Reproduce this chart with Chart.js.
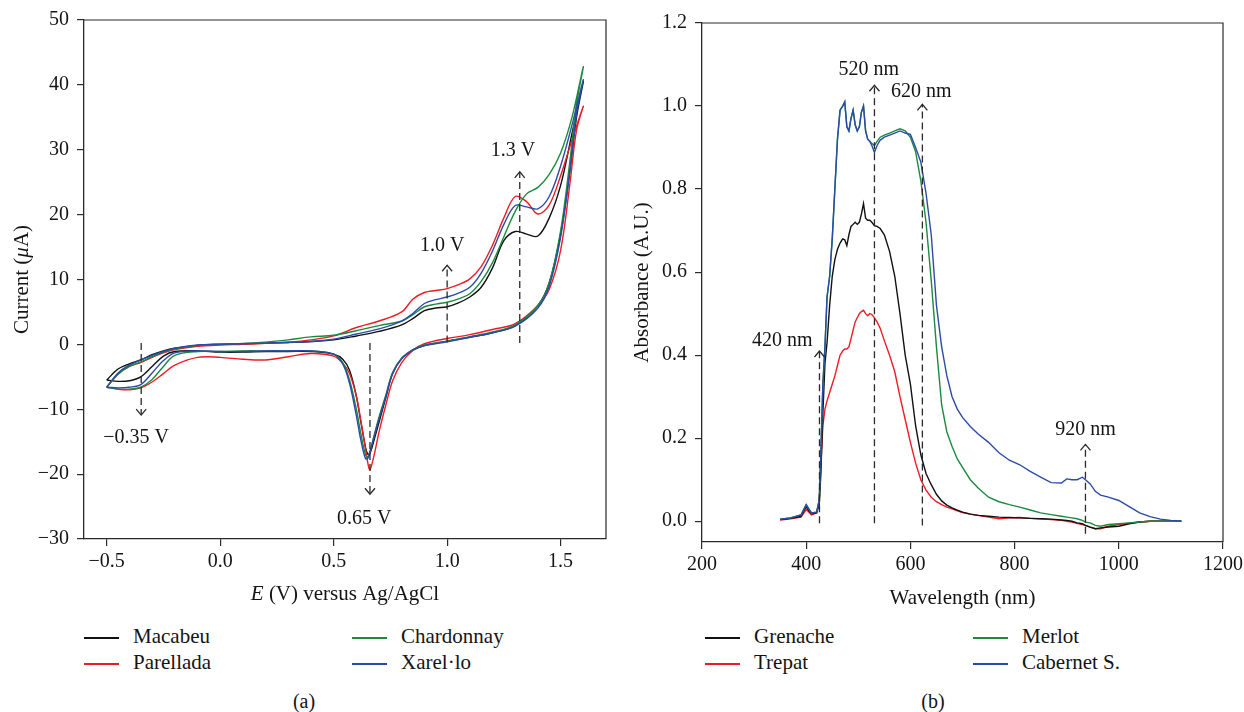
<!DOCTYPE html>
<html>
<head>
<meta charset="utf-8">
<script src="https://cdn.jsdelivr.net/npm/chart.js@4.4.1/dist/chart.umd.min.js"></script>
<style>
  body { margin: 0; background: #fff; width: 1244px; height: 712px; position: relative; overflow: hidden;
         font-family: 'Liberation Serif', 'Times New Roman', serif; color: #141414; }
  canvas { position: absolute; top: 0; }
  #cvChart { left: 0; }
  #uvChart { left: 622px; }
  .item { position: absolute; white-space: nowrap; font-size: 21px; height: 24px; line-height: 24px; }
  .swatch { display: inline-block; width: 35px; height: 1.5px; vertical-align: middle; margin-right: 14px; }
  .caption { position: absolute; top: 690px; font-size: 20px; transform: translateX(-50%); }
</style>
</head>
<body>
<canvas id="cvChart" width="622" height="612"></canvas>
<canvas id="uvChart" width="622" height="612"></canvas>
<div id="legendA"></div>
<div id="legendB"></div>
<div class="caption" style="left:304px">(a)</div>
<div class="caption" style="left:933px">(b)</div>
<script>
// ---- (a) cyclic voltammograms: forward scan then reverse scan
const cvPotential = [
  -0.5, -0.45, -0.4, -0.35, -0.3, -0.25, -0.2, -0.1, 0.0, 0.1, 0.2, 0.3, 0.4, 0.5, 0.6, 0.7, 0.8,
  0.85, 0.9, 0.95, 1.0, 1.05, 1.1, 1.15, 1.2, 1.25, 1.3, 1.35, 1.4, 1.45, 1.5, 1.55, 1.6,
  1.57, 1.54, 1.5, 1.45, 1.4, 1.3, 1.2, 1.1, 1.0, 0.9, 0.85, 0.8, 0.76, 0.73, 0.7, 0.68, 0.66,
  0.65, 0.64, 0.62, 0.6, 0.57, 0.54, 0.5, 0.4, 0.3, 0.2, 0.1, 0.0, -0.1, -0.2, -0.25, -0.3,
  -0.35, -0.4, -0.45, -0.5
];
const macabeu = [
  -5.5, -3.8, -3.0, -2.4, -1.6, -1.0, -0.6, -0.15, 0.0, 0.1, 0.2, 0.3, 0.45, 0.7, 1.3, 2.0, 3.0,
  4.0, 5.2, 5.6, 5.8, 6.4, 7.3, 8.8, 11.8, 16.0, 17.4, 17.0, 16.7, 19.5, 24.5, 32.5, 40.5,
  35.0, 26.5, 17.0, 9.5, 6.0, 2.9, 1.8, 1.1, 0.5, -0.2, -0.9, -2.2, -4.5, -8.2, -12.0, -14.5, -16.8,
  -16.9, -15.8, -12.0, -8.0, -4.0, -2.3, -1.5, -1.1, -1.1, -1.1, -1.2, -1.2, -1.0, -1.1, -1.8, -3.4,
  -5.0, -5.6, -5.7, -5.5
];
const parellada = [
  -6.6, -4.6, -3.4, -2.8, -2.0, -1.3, -0.8, -0.3, -0.1, 0.0, 0.15, 0.35, 0.7, 1.3, 2.6, 3.6, 5.0,
  7.0, 8.0, 8.3, 8.6, 9.2, 10.1, 12.0, 15.3, 19.5, 22.8, 22.0, 20.1, 21.5, 26.0, 31.5, 36.7,
  33.0, 24.5, 14.5, 8.5, 6.0, 3.2, 2.3, 1.5, 0.9, 0.1, -0.9, -2.8, -5.6, -9.3, -13.5, -16.8, -19.3,
  -18.2, -16.0, -11.8, -8.0, -4.5, -2.9, -1.8, -1.4, -1.9, -2.4, -2.3, -2.0, -2.0, -3.2, -4.5, -5.8,
  -6.7, -7.0, -6.9, -6.6
];
const chardonnay = [
  -6.6, -4.6, -3.4, -2.7, -1.9, -1.2, -0.7, -0.15, 0.05, 0.15, 0.35, 0.7, 1.15, 1.4, 2.1, 2.9, 3.6,
  4.6, 5.8, 6.2, 6.5, 7.0, 7.8, 9.7, 12.6, 16.6, 20.5, 23.2, 24.2, 26.2, 29.5, 35.0, 42.8,
  37.0, 28.0, 17.5, 9.5, 6.0, 3.0, 1.9, 1.2, 0.5, -0.1, -0.8, -2.1, -4.3, -7.8, -11.2, -13.8, -16.5,
  -17.4, -17.0, -13.8, -10.0, -5.5, -2.8, -1.5, -1.0, -1.0, -1.0, -1.0, -1.1, -1.1, -1.7, -3.4, -5.4,
  -6.6, -6.9, -6.9, -6.6
];
const xarello = [
  -6.6, -4.4, -3.2, -2.4, -1.7, -1.1, -0.6, -0.1, 0.0, 0.1, 0.2, 0.3, 0.45, 0.8, 1.6, 2.4, 3.6,
  4.8, 6.3, 6.9, 7.3, 7.9, 8.8, 11.0, 14.4, 18.5, 21.4, 21.2, 20.9, 22.8, 27.5, 33.8, 40.8,
  35.5, 26.5, 16.5, 9.0, 5.6, 2.8, 1.8, 1.1, 0.4, -0.2, -0.8, -2.2, -4.5, -8.0, -11.5, -14.0, -16.6,
  -17.6, -17.6, -14.8, -11.0, -6.0, -3.0, -1.5, -1.0, -1.0, -1.0, -1.1, -1.1, -1.0, -1.3, -2.5, -4.4,
  -6.2, -6.6, -6.7, -6.6
];
const cvXTicks = [-0.5, 0.0, 0.5, 1.0, 1.5];
const cvYTicks = [-30, -20, -10, 0, 10, 20, 30, 40, 50];

// ---- (b) absorbance spectra
const uvWavelength = [
  350, 370, 390, 400, 405, 410, 420, 425, 428, 432,
  436, 440, 445, 450, 455, 460, 465, 470, 474, 478,
  482, 486, 490, 494, 498, 502, 506, 510, 514, 518,
  522, 526, 531, 536, 542, 550, 560, 570, 580, 590,
  600, 610, 620, 630, 640, 650, 660, 670, 680, 690,
  700, 715, 730, 750, 770, 790, 810, 830, 850, 870,
  890, 900, 910, 920, 930, 936, 945, 955, 965, 980,
  1000, 1020, 1040, 1060, 1080, 1100, 1120
];
const grenache = [
  0.004, 0.007, 0.012, 0.035, 0.025, 0.018, 0.02, 0.04, 0.11, 0.26,
  0.38, 0.43, 0.52, 0.59, 0.63, 0.655, 0.67, 0.68, 0.678, 0.664,
  0.69, 0.71, 0.715, 0.72, 0.715, 0.72, 0.74, 0.765, 0.73, 0.725,
  0.725, 0.72, 0.712, 0.71, 0.705, 0.69, 0.65, 0.59, 0.50, 0.40,
  0.33, 0.23, 0.16, 0.115, 0.088, 0.065, 0.049, 0.039, 0.032, 0.027,
  0.022, 0.017, 0.014, 0.012, 0.010, 0.009, 0.008, 0.007, 0.006, 0.005,
  0.003, 0.002, 0.0, -0.004, -0.006, -0.010, -0.014, -0.018, -0.016, -0.014,
  -0.012, -0.006, -0.002, 0.0, 0.0, 0.0, 0.0
];
const trepat = [
  0.003, 0.006, 0.01, 0.028, 0.022, 0.015, 0.02, 0.05, 0.13, 0.23,
  0.27, 0.29, 0.31, 0.33, 0.35, 0.375, 0.40, 0.41, 0.415, 0.415,
  0.42, 0.44, 0.46, 0.48, 0.49, 0.50, 0.505, 0.508, 0.50, 0.495,
  0.50, 0.498, 0.49, 0.48, 0.465, 0.435, 0.40, 0.36, 0.30, 0.245,
  0.19, 0.14, 0.10, 0.075, 0.058, 0.047, 0.040, 0.034, 0.030, 0.025,
  0.021, 0.017, 0.014, 0.010, 0.006, 0.008, 0.009, 0.007, 0.006, 0.004,
  0.002, 0.0, -0.002, -0.005, -0.008, -0.010, -0.014, -0.018, -0.018, -0.012,
  -0.008, -0.005, -0.002, 0.0, 0.0, 0.0, 0.0
];
const merlot = [
  0.005, 0.008, 0.015, 0.04, 0.03, 0.02, 0.022, 0.05, 0.16, 0.33,
  0.42, 0.54, 0.59, 0.68, 0.80, 0.92, 0.99, 1.0, 1.01, 0.95,
  0.94, 0.97, 0.99, 0.955, 0.94, 0.95, 0.985, 1.0, 0.94, 0.92,
  0.915, 0.91, 0.905, 0.915, 0.925, 0.93, 0.935, 0.94, 0.945, 0.94,
  0.925, 0.89, 0.82, 0.72, 0.58, 0.42, 0.28, 0.215, 0.18, 0.15,
  0.13, 0.10, 0.08, 0.058, 0.047, 0.040, 0.034, 0.027, 0.020, 0.016,
  0.012, 0.010, 0.008, 0.006, 0.002, -0.002, -0.004, -0.010, -0.012, -0.008,
  -0.006, -0.004, -0.002, 0.0, 0.0, 0.0, 0.0
];
const cabernet = [
  0.005, 0.008, 0.015, 0.04, 0.03, 0.02, 0.022, 0.05, 0.16, 0.33,
  0.42, 0.54, 0.59, 0.68, 0.80, 0.92, 0.99, 1.0, 1.01, 0.95,
  0.94, 0.97, 0.99, 0.955, 0.94, 0.95, 0.985, 1.0, 0.94, 0.92,
  0.915, 0.905, 0.888, 0.905, 0.918, 0.925, 0.93, 0.935, 0.94, 0.935,
  0.932, 0.90, 0.865, 0.79, 0.69, 0.52, 0.42, 0.35, 0.30, 0.27,
  0.25, 0.228, 0.21, 0.19, 0.165, 0.147, 0.136, 0.12, 0.106, 0.093,
  0.092, 0.102, 0.10, 0.10, 0.106, 0.10, 0.09, 0.072, 0.063, 0.058,
  0.05, 0.035, 0.02, 0.011, 0.005, 0.002, 0.0
];
const uvXTicks = [200, 400, 600, 800, 1000, 1200];
const uvYTicks = [0.0, 0.2, 0.4, 0.6, 0.8, 1.0, 1.2];

const FONT = "'Liberation Serif', 'Times New Roman', serif";
const TEXT = '#141414';
const AXIS = '#2a2a2a';
const BLACK = '#111111', RED = '#ed1c24', GREEN = '#1b8a3f', BLUE = '#2b4ba8';

const minus = s => s.replace('-', '\u2212');

function pairs(xs, ys) {
  return xs.map((x, i) => ({ x: x, y: ys[i] }));
}

function drawRich(ctx, parts, cx, cy, rotate) {
  ctx.save();
  ctx.translate(cx, cy);
  if (rotate) ctx.rotate(-Math.PI / 2);
  ctx.textBaseline = 'middle';
  ctx.textAlign = 'left';
  ctx.fillStyle = TEXT;
  const fonts = parts.map(p => (p.italic ? 'italic ' : '') + '21px ' + FONT);
  let total = 0;
  const widths = parts.map((p, i) => {
    ctx.font = fonts[i];
    const w = ctx.measureText(p.text).width;
    total += w;
    return w;
  });
  let x = -total / 2;
  parts.forEach((p, i) => {
    ctx.font = fonts[i];
    ctx.fillText(p.text, x, 0);
    x += widths[i];
  });
  ctx.restore();
}

// frame, dashed arrows with labels, axis titles
const figurePlugin = {
  id: 'figure',
  afterDatasetsDraw(chart, args, opts) {
    const { ctx, chartArea: a, scales: { x, y } } = chart;
    ctx.save();
    ctx.strokeStyle = AXIS;
    ctx.lineWidth = 1.2;
    ctx.beginPath();
    ctx.moveTo(a.left, a.top);
    ctx.lineTo(a.right, a.top);
    ctx.lineTo(a.right, a.bottom);
    ctx.stroke();

    ctx.lineWidth = 1.3;
    ctx.font = '20px ' + FONT;
    ctx.fillStyle = TEXT;
    ctx.textAlign = 'center';
    ctx.textBaseline = 'middle';
    opts.marks.forEach(m => {
      const px = x.getPixelForValue(m.at);
      const p0 = y.getPixelForValue(m.from);
      const p1 = y.getPixelForValue(m.to);
      ctx.setLineDash([7, 4]);
      ctx.beginPath();
      ctx.moveTo(px, p0);
      ctx.lineTo(px, p1);
      ctx.stroke();
      ctx.setLineDash([]);
      const dir = p1 < p0 ? 1 : -1;
      ctx.beginPath();
      ctx.moveTo(px - 5, p1 + dir * 6);
      ctx.lineTo(px, p1);
      ctx.lineTo(px + 5, p1 + dir * 6);
      ctx.stroke();
      ctx.fillText(m.label, x.getPixelForValue(m.lx), y.getPixelForValue(m.ly));
    });
    ctx.restore();

    drawRich(ctx, opts.xTitle, (a.left + a.right) / 2, opts.xTitleY, false);
    drawRich(ctx, opts.yTitle, opts.yTitleX, (a.top + a.bottom) / 2, true);
  }
};

function lineSet(label, xs, ys, color, order, tension) {
  return {
    label: label,
    data: pairs(xs, ys),
    borderColor: color,
    borderWidth: 1.4,
    pointRadius: 0,
    fill: false,
    tension: tension,
    order: order
  };
}

function axis(min, max, tickList, fmt, size, isX) {
  return {
    type: 'linear',
    min: min,
    max: max,
    afterBuildTicks: s => { s.ticks = tickList.map(v => ({ value: v })); },
    afterFit: s => {
      if (isX) s.height = size; else s.width = size;
      s.paddingLeft = 0; s.paddingRight = 0; s.paddingTop = 0; s.paddingBottom = 0;
    },
    ticks: {
      callback: fmt,
      font: { family: FONT, size: 20 },
      color: TEXT,
      padding: isX ? 4 : 8,
      maxRotation: 0
    },
    grid: { drawOnChartArea: false, drawTicks: true, tickLength: 7, color: AXIS, lineWidth: 1.2 },
    border: { display: true, color: AXIS, width: 1.3 }
  };
}

new Chart(document.getElementById('cvChart'), {
  type: 'line',
  data: {
    datasets: [
      lineSet('Macabeu', cvPotential, macabeu, BLACK, 3, 0.35),
      lineSet('Parellada', cvPotential, parellada, RED, 2, 0.35),
      lineSet('Chardonnay', cvPotential, chardonnay, GREEN, 1, 0.35),
      lineSet('Xarel\u00b7lo', cvPotential, xarello, BLUE, 0, 0.35)
    ]
  },
  options: {
    responsive: false,
    animation: false,
    layout: { padding: { top: 20, right: 16, left: 0, bottom: 0 } },
    plugins: {
      legend: { display: false },
      tooltip: { enabled: false },
      figure: {
        marks: [
          { at: 1.32, from: 0.2, to: 26.6, label: '1.3 V', lx: 1.29, ly: 29.8 },
          { at: 1.0, from: 0.3, to: 12.2, label: '1.0 V', lx: 0.978, ly: 15.2 },
          { at: 0.66, from: 0.2, to: -23.1, label: '0.65 V', lx: 0.635, ly: -26.9 },
          { at: -0.348, from: 0.2, to: -10.9, label: '\u22120.35 V', lx: -0.37, ly: -14.4 }
        ],
        xTitle: [{ text: 'E', italic: true }, { text: ' (V) versus Ag/AgCl' }],
        xTitleY: 594,
        yTitle: [{ text: 'Current (' }, { text: '\u03bc', italic: true }, { text: 'A)' }],
        yTitleX: 22
      }
    },
    scales: {
      x: axis(-0.6, 1.7, cvXTicks, v => minus(v.toFixed(1)), 73, true),
      y: axis(-30, 50, cvYTicks, v => minus(String(v)), 84, false)
    }
  },
  plugins: [figurePlugin]
});

new Chart(document.getElementById('uvChart'), {
  type: 'line',
  data: {
    datasets: [
      lineSet('Grenache', uvWavelength, grenache, BLACK, 2, 0),
      lineSet('Trepat', uvWavelength, trepat, RED, 3, 0),
      lineSet('Merlot', uvWavelength, merlot, GREEN, 1, 0),
      lineSet('Cabernet S.', uvWavelength, cabernet, BLUE, 0, 0)
    ]
  },
  options: {
    responsive: false,
    animation: false,
    layout: { padding: { top: 23, right: 21, left: 0, bottom: 0 } },
    plugins: {
      legend: { display: false },
      tooltip: { enabled: false },
      figure: {
        marks: [
          { at: 425.5, from: -0.005, to: 0.41, label: '420 nm', lx: 354, ly: 0.434 },
          { at: 531, from: -0.005, to: 1.05, label: '520 nm', lx: 520, ly: 1.087 },
          { at: 623, from: -0.01, to: 1.004, label: '620 nm', lx: 621, ly: 1.035 },
          { at: 936, from: -0.03, to: 0.185, label: '920 nm', lx: 936, ly: 0.221 }
        ],
        xTitle: [{ text: 'Wavelength (nm)' }],
        xTitleY: 598,
        yTitle: [{ text: 'Absorbance (A.U.)' }],
        yTitleX: 20
      }
    },
    scales: {
      x: axis(200, 1200, uvXTicks, v => String(v), 70, true),
      y: axis(-0.05, 1.2, uvYTicks, v => v.toFixed(1), 80, false)
    }
  },
  plugins: [figurePlugin]
});

// legends, two columns each
function legend(id, items, cols, rows) {
  const box = document.getElementById(id);
  items.forEach((it, i) => {
    const d = document.createElement('div');
    d.className = 'item';
    d.style.left = cols[Math.floor(i / 2)] + 'px';
    d.style.top = rows[i % 2] + 'px';
    d.innerHTML = '<span class="swatch" style="background:' + it[1] + '"></span>' + it[0];
    box.appendChild(d);
  });
}
legend('legendA', [['Macabeu', BLACK], ['Parellada', RED], ['Chardonnay', GREEN], ['Xarel\u00b7lo', BLUE]],
  [84, 352], [624, 650]);
legend('legendB', [['Grenache', BLACK], ['Trepat', RED], ['Merlot', GREEN], ['Cabernet S.', BLUE]],
  [705, 973], [624, 650]);
</script>
</body>
</html>
